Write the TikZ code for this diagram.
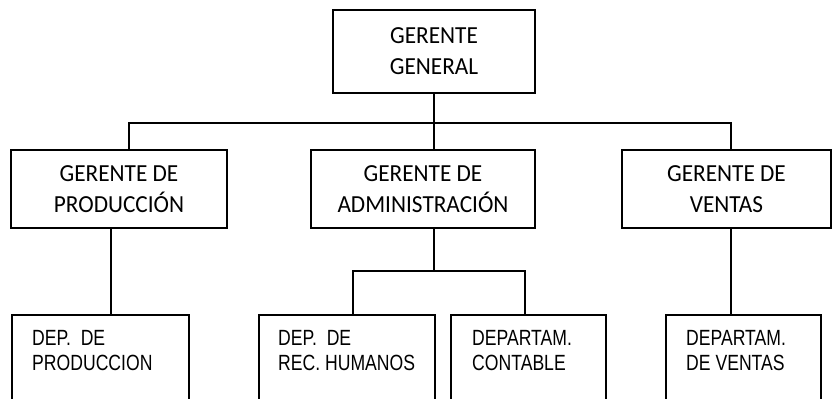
\documentclass[tikz,border=0pt]{standalone}
\usepackage{fontspec}
\setmainfont{Carlito}[FakeStretch=0.95]
\newfontfamily\arialn[FakeStretch=0.8]{Liberation Sans}

\begin{document}
\begin{tikzpicture}[x=1pt, y=-1pt,
  jefe/.style = {draw, line width=1.6pt, align=center, inner sep=0pt, font=\fontsize{24.5}{31}\selectfont},
  depto/.style = {draw, line width=1.6pt, inner sep=0pt, anchor=north west, minimum height=116pt},
  rotulo/.style = {anchor=north west, align=left, inner sep=0pt, font=\arialn\fontsize{22}{25}\selectfont},
  linea/.style = {line width=2.4pt}]
\clip (0,0) rectangle (833,399);
% gerencias
\node[jefe, minimum width=202pt, minimum height=83pt] (gg) at (434,51.5) {GERENTE\\GENERAL};
\node[jefe, minimum width=216pt, minimum height=78pt] (gp) at (119,189) {GERENTE DE\\PRODUCCIÓN};
\node[jefe, minimum width=224pt, minimum height=78pt] (ga) at (423,189) {GERENTE DE\\ADMINISTRACIÓN};
\node[jefe, minimum width=209pt, minimum height=78pt] (gv) at (726.5,189) {GERENTE DE\\VENTAS};
% departamentos
\node[depto, minimum width=177pt] (dp) at (11,314) {};
\node[depto, minimum width=176pt] (dr) at (258,314) {};
\node[depto, minimum width=155pt] (dc) at (450,314) {};
\node[depto, minimum width=155pt] (dv) at (665,314) {};
\node[rotulo] (tp) at ([shift={(21,16)}]dp.north west) {DEP.~~DE\\PRODUCCION};
\node[rotulo] (tr) at ([shift={(20,16)}]dr.north west) {DEP.~~DE\\REC. HUMANOS};
\node[rotulo] (tc) at ([shift={(22,16)}]dc.north west) {DEPARTAM.\\CONTABLE};
\node[rotulo] (tv) at ([shift={(21,16)}]dv.north west) {DEPARTAM.\\DE VENTAS};
% lineas
\coordinate (bl) at (129,123);
\coordinate (br) at (731,123);
\coordinate (pl) at (111,271);
\coordinate (ma) at (434,271);
\coordinate (ml) at (353,271);
\coordinate (mr) at (525,271);
\draw[linea] (gg) -- (gg |- ga.north);
\draw[linea] (bl |- gp.north) -- (bl) -- (br) -- (br |- gv.north);
\draw[linea] (gp.south -| pl) -- (dp.north -| pl);
\draw[linea] (ga.south -| ma) -- (ma);
\draw[linea] (ml |- dr.north) -- (ml) -- (mr) -- (mr |- dc.north);
\draw[linea] (gv.south -| br) -- (dv.north -| br);
\end{tikzpicture}
\end{document}
